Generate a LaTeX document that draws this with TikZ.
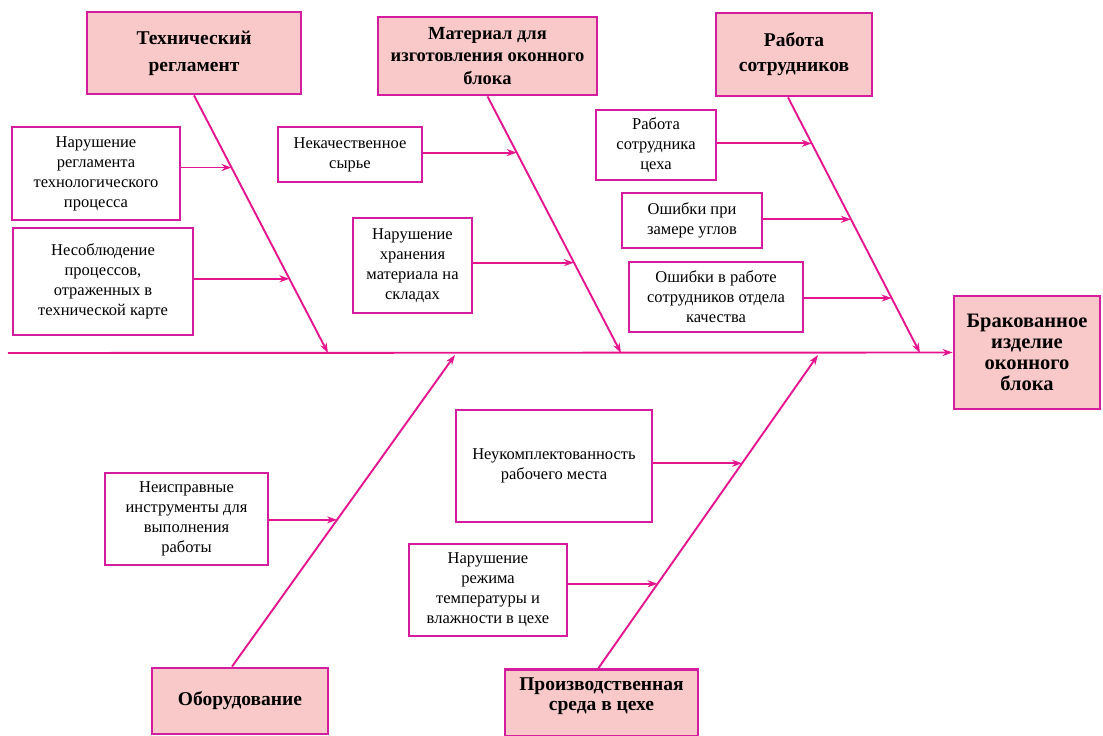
\documentclass[tikz,border=0pt]{standalone}
\usepackage{fontspec}
\setmainfont{Liberation Serif}
\usepackage{xcolor}
\usepackage{tikz}
\usetikzlibrary{arrows.meta}
\definecolor{linec}{HTML}{E5158F}
\definecolor{bordc}{HTML}{D41C9F}
\definecolor{headf}{HTML}{F9C9C9}
\tikzset{
  ar/.style={-{Stealth[length=10pt,width=7pt]},line width=1.9pt,linec},
  head/.style={draw=bordc,line width=2.8pt,fill=headf,align=center,inner sep=0pt,
    font=\rmfamily\bfseries\fontsize{19.5}{27}\selectfont},
  cause/.style={draw=bordc,line width=2.2pt,fill=white,align=center,inner sep=0pt,
    font=\rmfamily\fontsize{16.5}{20}\selectfont}
}

\begin{document}
\begin{tikzpicture}[x=1pt,y=-1pt]
\useasboundingbox[fill=white] (0,0) rectangle (1103,736);
% heads
\node[head,minimum width=214,minimum height=82] (tech) at (194,53) {Технический\\регламент};
\node[head,minimum width=219,minimum height=78,font=\rmfamily\bfseries\fontsize{18.5}{22.5}\selectfont] (mat) at (487.5,56) {Материал для\\изготовления оконного\\блока};
\node[head,minimum width=156,minimum height=83,font=\rmfamily\bfseries\fontsize{19.5}{25}\selectfont] (staff) at (794,54.5) {Работа\\сотрудников};
\node[head,minimum width=146,minimum height=113,font=\rmfamily\bfseries\fontsize{20.5}{21}\selectfont] (defect) at (1027,352.5) {Бракованное\\изделие\\оконного\\блока};
\node[head,minimum width=176,minimum height=66] (equip) at (240,701) {Оборудование};
\node[head,minimum width=193,anchor=north,inner ysep=8pt,text depth=18pt,font=\rmfamily\bfseries\fontsize{19.5}{20}\selectfont] (env) at (601.5,668) {Производственная\\среда в цехе};
% spine and bones
\coordinate (sp0) at (8,353);
\coordinate (tE) at (328,353);
\coordinate (mE) at (621,353);
\coordinate (sE) at (920,353);
\coordinate (eE) at (455,355);
\coordinate (vE) at (818,355);
\draw[ar] (sp0) -- (defect.west);
\draw[ar] (tech.south) -- (tE);
\draw[ar] (mat.south) -- (mE);
\draw[ar] ([xshift=-6pt]staff.south) -- (sE);
\draw[ar] ([xshift=-8pt]equip.north) -- (eE);
\draw[ar] ([xshift=-3pt]env.north) -- (vE);
\path (tech.south) -- (tE) coordinate[pos=0.28] (tpA) coordinate[pos=0.712] (tpB);
\path (mat.south) -- (mE) coordinate[pos=0.219] (mpA) coordinate[pos=0.648] (mpB);
\path ([xshift=-6pt]staff.south) -- (sE) coordinate[pos=0.18] (spA) coordinate[pos=0.477] (spB) coordinate[pos=0.785] (spC);
\path ([xshift=-8pt]equip.north) -- (eE) coordinate[pos=0.471] (epA);
\path ([xshift=-3pt]env.north) -- (vE) coordinate[pos=0.654] (vpA) coordinate[pos=0.269] (vpB);
% causes
\node[cause,minimum width=168,minimum height=93] (tA) at (96,173.5) {Нарушение\\регламента\\технологического\\процесса};
\node[cause,minimum width=180,minimum height=107] (tB) at (103,281.5) {Несоблюдение\\процессов,\\отраженных в\\технической карте};
\node[cause,minimum width=144,minimum height=55] (mA) at (350,154.5) {Некачественное\\сырье};
\node[cause,minimum width=119,minimum height=95] (mB) at (412.5,265.5) {Нарушение\\хранения\\материала на\\складах};
\node[cause,minimum width=120,minimum height=70] (sA) at (656,145) {Работа\\сотрудника\\цеха};
\node[cause,minimum width=140,minimum height=55] (sB) at (692,220.5) {Ошибки при\\замере углов};
\node[cause,minimum width=174,minimum height=70] (sC) at (716,297) {Ошибки в работе\\сотрудников отдела\\качества};
\node[cause,minimum width=163,minimum height=92] (eA) at (186.5,519) {Неисправные\\инструменты для\\выполнения\\работы};
\node[cause,minimum width=196,minimum height=112] (vA) at (554,466) {Неукомплектованность\\рабочего места};
\node[cause,minimum width=158,minimum height=92] (vB) at (488,590) {Нарушение\\режима\\температуры и\\влажности в цехе};
\draw[ar] (tA.east |- tpA) -- (tpA);
\draw[ar] (tB.east |- tpB) -- (tpB);
\draw[ar] (mA.east |- mpA) -- (mpA);
\draw[ar] (mB.east |- mpB) -- (mpB);
\draw[ar] (sA.east |- spA) -- (spA);
\draw[ar] (sB.east |- spB) -- (spB);
\draw[ar] (sC.east |- spC) -- (spC);
\draw[ar] (eA.east |- epA) -- (epA);
\draw[ar] (vA.east |- vpA) -- (vpA);
\draw[ar] (vB.east |- vpB) -- (vpB);
\end{tikzpicture}
\end{document}
